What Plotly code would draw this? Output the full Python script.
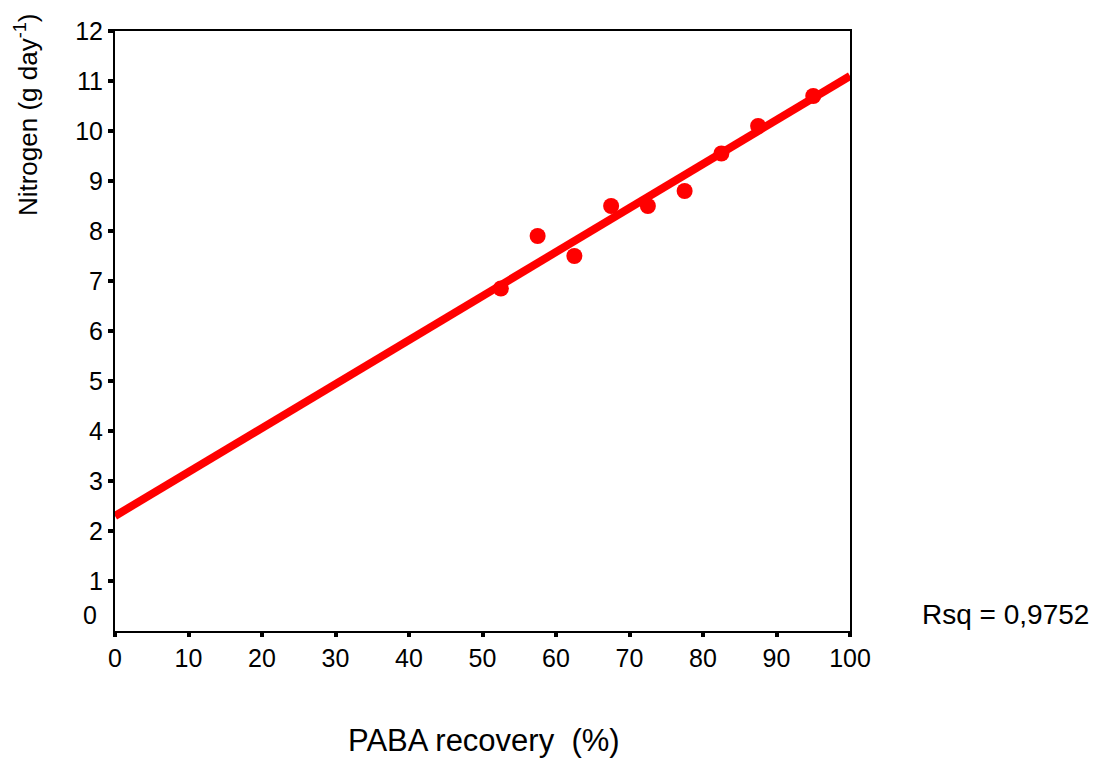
import plotly.graph_objects as go

# Data
paba_recovery = [52.5, 57.5, 62.5, 67.5, 72.5, 77.5, 82.5, 87.5, 95.0]
nitrogen = [6.85, 7.9, 7.5, 8.5, 8.5, 8.8, 9.55, 10.1, 10.7]

fit_x = [0, 100]
fit_y = [2.3, 11.1]

x_ticks = [0, 10, 20, 30, 40, 50, 60, 70, 80, 90, 100]
y_ticks = [1, 2, 3, 4, 5, 6, 7, 8, 9, 10, 11, 12]
rsq_label = "Rsq = 0,9752"

FONT = "Liberation Sans, Arial, sans-serif"
RED = "#FF0000"

fig = go.Figure()
fig.add_trace(go.Scatter(x=fit_x, y=fit_y, mode="lines",
                         line=dict(color=RED, width=8), hoverinfo="skip"))
fig.add_trace(go.Scatter(x=paba_recovery, y=nitrogen, mode="markers",
                         marker=dict(color=RED, size=16, symbol="circle")))

fig.update_layout(
    width=1095, height=762,
    margin=dict(l=115, r=245, t=31, b=131),
    paper_bgcolor="white", plot_bgcolor="white",
    showlegend=False,
    font=dict(family=FONT, color="black"),
)
fig.update_xaxes(range=[0, 100], tickvals=x_ticks, ticks="outside",
                 ticklen=4, tickwidth=4, tickcolor="black",
                 showline=True, linecolor="black", linewidth=2, mirror=True,
                 showgrid=False, zeroline=False,
                 tickfont=dict(size=25, family=FONT, color="black"))
fig.update_yaxes(range=[0, 12], tickvals=y_ticks,
                 ticks="outside",
                 ticklen=5, tickwidth=4, tickcolor="black",
                 showline=True, linecolor="black", linewidth=2, mirror=True,
                 showgrid=False, zeroline=False,
                 tickfont=dict(size=25, family=FONT, color="black"))

# zero label of the y axis sits slightly above its tick in the reference
fig.add_annotation(text="0", xref="paper", yref="y", x=-0.022, y=0.32,
                   xanchor="right", yanchor="middle", showarrow=False,
                   font=dict(size=25, family=FONT, color="black"))

fig.add_annotation(text="Nitrogen (g day<sup>-1</sup>)", textangle=-90,
                   xref="paper", yref="paper", x=-0.121, y=0.86,
                   xanchor="center", yanchor="middle", showarrow=False,
                   font=dict(size=26, family=FONT, color="black"))
fig.add_annotation(text="PABA recovery  (%)",
                   xref="paper", yref="paper", x=0.502, y=-0.183,
                   xanchor="center", yanchor="middle", showarrow=False,
                   font=dict(size=31, family=FONT, color="black"))
fig.add_annotation(text=rsq_label,
                   xref="paper", yref="paper", x=1.095, y=0.027,
                   xanchor="left", yanchor="middle", showarrow=False,
                   font=dict(size=28, family=FONT, color="black"))

fig.write_html("out.html")
